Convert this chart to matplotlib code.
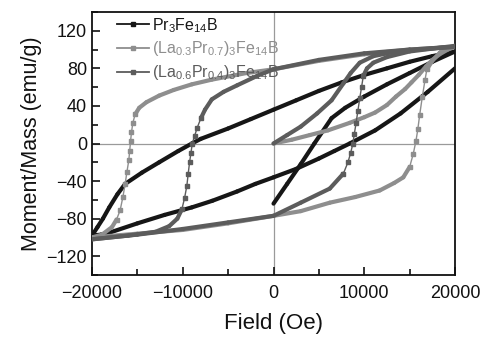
import matplotlib
matplotlib.use("Agg")
import numpy as np
import matplotlib.pyplot as plt
from matplotlib.ticker import MultipleLocator
from matplotlib.collections import LineCollection
from matplotlib.lines import Line2D

plt.rcParams['font.family'] = ['Liberation Sans', 'DejaVu Sans']
plt.rcParams['mathtext.fontset'] = 'custom'
plt.rcParams['mathtext.rm'] = 'Liberation Sans'
plt.rcParams['mathtext.it'] = 'Liberation Sans'

# ---- data: Pr3Fe14B (initial curve, descending branch, ascending branch)
pr_field = [0, 1500, 3000, 4500, 6400, 7900, 10000, 12500, 15000, 17500, 20000,
            17500, 15000, 12500, 10000, 7500, 5000, 2500, 0, -2500, -5000, -8000,
            -9000, -10500, -12600, -14500, -16350, -17200, -18100, -18800, -19400, -20000,
            -19000, -18100, -15000, -12000, -9000, -6750, -4000, -2000, 0, 2500,
            5000, 6700, 8400, 11200, 14000, 17000, 20000]
pr_moment = [-64, -43, -22, 0, 27, 38, 50, 63, 75, 87, 98,
             93, 87, 80, 73, 65, 56, 46, 36, 26, 16, 5,
             0, -8, -20, -31, -43, -54, -68, -80, -89, -98,
             -97, -95, -85, -76, -68, -61, -51, -43, -36, -27,
             -16, -8, 0, 14, 32, 55, 80]

# ---- data: (La0.3Pr0.7)3Fe14B
la3_field = [0, 2000, 4000, 6000, 8400, 10000, 11200, 12500, 13500, 14500, 15200,
             16000, 16800, 17500, 18300, 19200, 20000,
             15000, 10000, 5000, 0, -3000, -6800, -9000, -11000, -12600, -14000,
             -14800, -15250, -15500, -15650, -15750, -15850, -15950, -16150, -16350,
             -16600, -16900, -17300, -17800, -18900, -20000,
             -15000, -10000, -5000, 0, 3000, 6200, 9000, 11700, 13300, 14300, 15000,
             15400, 15700, 15900, 16100, 16400, 16700, 16900, 17500, 18350, 19200, 20000]
la3_moment = [0, 4, 9, 14, 22, 28, 33, 41, 50, 58, 65,
              73, 82, 89, 95, 100, 103,
              100, 95, 88, 79, 75, 68, 63, 57, 51, 44,
              38, 31, 22, 12, 3, -8, -18, -30, -43,
              -57, -71, -81, -89, -97, -100,
              -96, -92, -85, -77, -72, -63, -57, -50, -42, -36, -25,
              -11, 3, 15, 30, 50, 68, 79, 88, 97, 101, 104]

# ---- data: (La0.6Pr0.4)3Fe14B
la6_field = [0, 1500, 3000, 4800, 6400, 7700, 8500, 9500, 11000, 13000, 16000, 20000,
             15000, 10000, 5000, 0, -1800, -4000, -5500, -6800, -7550, -8000, -8400,
             -8700, -8950, -9100, -9250, -9400, -9550, -9800, -10100, -10600, -11500,
             -13000, -16000, -20000,
             -15000, -10000, -5000, 0, 3000, 6200, 7700, 8200, 8500, 8750, 8900, 9100,
             9300, 9500, 9700, 9900, 10300, 11000, 12500, 15000, 20000]
la6_moment = [0, 9, 18, 32, 46, 64, 75, 86, 93, 97, 100, 103,
              100, 96, 89, 79, 72, 62, 55, 47, 36, 27, 17,
              8, 0, -10, -20, -32, -45, -58, -70, -80, -88,
              -94, -98, -102,
              -97, -91, -84, -77, -63, -48, -32, -20, -10, 0, 10, 22,
              35, 48, 60, 72, 80, 86, 92, 98, 104]

labels = [r'Pr$_3$Fe$_{14}$B',
          r'(La$_{0.3}$Pr$_{0.7}$)$_3$Fe$_{14}$B',
          r'(La$_{0.6}$Pr$_{0.4}$)$_3$Fe$_{14}$B']
colors = ['#161616', '#8e8e8e', '#5c5c5c']

fig = plt.figure(figsize=(4.9, 3.41), dpi=100)
ax = fig.add_axes([0.1878, 0.1935, 0.7408, 0.7713])
ax.set_xlim(-20000, 20000)
ax.set_ylim(-140, 140)

ax.axhline(0, color='#9a9a9a', lw=0.9, zorder=1)
ax.axvline(0, color='#9a9a9a', lw=0.9, zorder=1)

series = [(pr_field, pr_moment), (la3_field, la3_moment), (la6_field, la6_moment)]
for (f, m), c in zip(series, colors):
    pts = ax.transData.transform(np.column_stack([f, m]))
    d = np.diff(pts, axis=0)
    steep = np.abs(d[:, 1]) > 2.2 * np.abs(d[:, 0]) + 1e-9
    segs = np.stack([np.column_stack([f[:-1], m[:-1]]),
                     np.column_stack([f[1:], m[1:]])], axis=1)
    widths = np.where(steep, 1.0, 3.0)
    lc = LineCollection(segs, colors=c, linewidths=widths, capstyle='round',
                        joinstyle='round', zorder=3)
    ax.add_collection(lc)
    mark = np.zeros(len(f), bool)
    mark[:-1] |= steep
    mark[1:] |= steep
    ax.plot(np.array(f)[mark], np.array(m)[mark], ls='none', marker='s',
            ms=3.0, color=c, zorder=4)

ax.xaxis.set_major_locator(MultipleLocator(10000))
ax.xaxis.set_minor_locator(MultipleLocator(5000))
ax.yaxis.set_major_locator(MultipleLocator(40))
ax.yaxis.set_minor_locator(MultipleLocator(20))
ax.tick_params(which='both', direction='in', top=False, right=False,
               labelsize=13, width=1.2, colors='#111111')
ax.tick_params(which='major', length=6)
ax.tick_params(which='minor', length=4)
ax.tick_params(axis='x', pad=7)
for s in ax.spines.values():
    s.set_linewidth(1.3)
    s.set_color('#111111')

ax.set_xlabel('Field (Oe)', fontsize=16, labelpad=8, color='#111111')
ax.set_ylabel('Moment/Mass (emu/g)', fontsize=15.5, labelpad=3, color='#111111')

handles = [Line2D([], [], color=c, lw=1.3, marker='s', ms=3.5) for c in colors]
leg = ax.legend(handles, labels, loc='upper left', frameon=False, fontsize=11.5,
                handlelength=2.0, handletextpad=0.15, labelspacing=0.3,
                borderaxespad=0.0, borderpad=0.0,
                bbox_to_anchor=(0.07, 0.985), labelcolor='linecolor')

fig.savefig('out.png', dpi=100)
